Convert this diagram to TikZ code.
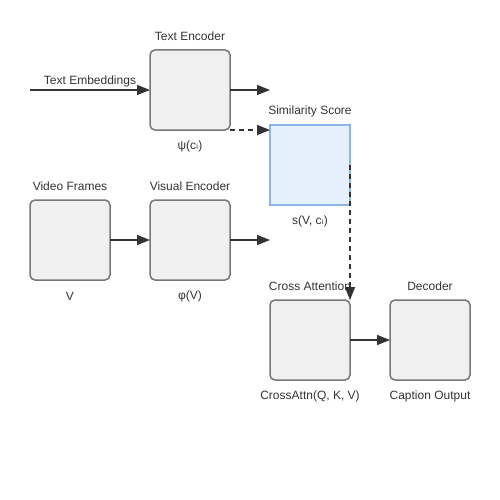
\documentclass[tikz,border=0pt]{standalone}
\usepackage{fontspec}
\setmainfont{Liberation Sans}
\newfontfamily\dvfont{DejaVu Sans}
\usetikzlibrary{arrows.meta}
\definecolor{boxfill}{HTML}{F0F0F0}
\definecolor{boxline}{HTML}{777777}
\definecolor{simfill}{HTML}{E5F0FC}
\definecolor{simline}{HTML}{8AB6EA}
\definecolor{lineclr}{HTML}{333333}
\definecolor{txt}{HTML}{333333}
\begin{document}
\begin{tikzpicture}[x=1pt,y=-1pt,
  font=\fontsize{12}{14}\selectfont,
  blockbox/.style={draw=boxline, fill=boxfill, line width=1.5pt, rounded corners=5pt, minimum width=80pt, minimum height=80pt, inner sep=0pt, outer sep=0pt},
  simbox/.style={draw=simline, fill=simfill, line width=1.5pt, minimum width=80pt, minimum height=80pt, inner sep=0pt, outer sep=0pt},
  lbl/.style={text=txt, inner sep=0pt, anchor=center},
  arr/.style={draw=lineclr, line width=1.5pt, -{Triangle[length=13pt,width=10pt]}},
  darr/.style={arr, dashed, dash pattern=on 5pt off 4pt}
]
\useasboundingbox (0,0) rectangle (500,500);
% boxes
\node[blockbox] (te) at (190,90) {};
\node[simbox] (sim) at (310,165) {};
\node[blockbox] (vf) at (70,240) {};
\node[blockbox] (ve) at (190,240) {};
\node[blockbox] (ca) at (310,340) {};
\node[blockbox] (dec) at (430,340) {};
% labels
\node[lbl] (teL) at (190,36) {Text Encoder};
\node[lbl] (teB) at (190,146) {ψ(c{\dvfont ᵢ})};
\node[lbl] (simL) at (310,111) {Similarity Score};
\node[lbl] (simB) at (310,221) {s(V, c{\dvfont ᵢ})};
\node[lbl] (vfL) at (70,186) {Video Frames};
\node[lbl] (vfB) at (70,296) {V};
\node[lbl] (veL) at (190,186) {Visual Encoder};
\node[lbl] (veB) at (190,296) {φ(V)};
\node[lbl] (caL) at (310,286) {Cross Attention};
\node[lbl] (caB) at (310,396) {CrossAttn(Q, K, V)};
\node[lbl] (decL) at (430,286) {Decoder};
\node[lbl] (decB) at (430,396) {Caption Output};
\node[lbl] (embL) at (90,81) {Text Embeddings};
% free ends
\coordinate (embIn) at (30,90);
\coordinate (teOut) at (270,90);
\coordinate (veOut) at (270,240);
% connectors
\draw[arr] (embIn) -- (te.west);
\draw[arr] (te.east) -- (teOut);
\draw[darr] (te.south east) -- (sim.west |- te.south east);
\draw[darr] (sim.east) -- (ca.north east);
\draw[arr] (vf.east) -- (ve.west);
\draw[arr] (ve.east) -- (veOut);
\draw[arr] (ca.east) -- (dec.west);
\end{tikzpicture}
\end{document}
